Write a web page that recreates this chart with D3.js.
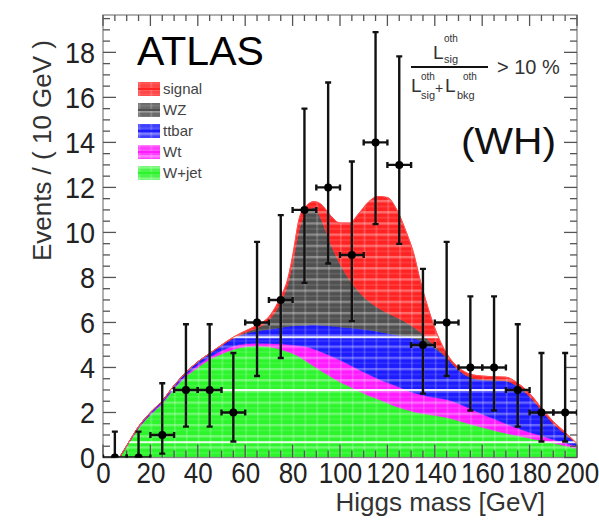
<!DOCTYPE html>
<html><head><meta charset="utf-8">
<script src="https://cdn.jsdelivr.net/npm/d3@7"></script>
<style>
body{margin:0;background:#fff}
svg{display:block}
text{font-family:"Liberation Sans",Arial,Helvetica,sans-serif}
</style>
</head><body>
<svg id="c" width="599" height="520"></svg>
<script>
// ---------- data ----------
const masses = [7,10,15,20,25,30,35,40,45,50,55,60,65,70,75,78,80,83,86,89,92,96,100,104,108,112,116,120,124,128,131,134,137,140,145,150,155,160,165,170,175,180,185,190,195,200];
const wjet   = [0,0.5,1.3,1.9,2.4,3.05,3.6,4.0,4.35,4.6,4.8,4.92,4.95,4.92,4.8,4.7,4.62,4.47,4.26,4.05,3.85,3.6,3.35,3.15,2.95,2.75,2.6,2.42,2.25,2.12,2.03,1.97,1.92,1.87,1.78,1.63,1.48,1.34,1.2,1.08,0.97,0.86,0.75,0.64,0.52,0.4];
const wt     = [0,0,0.02,0.03,0.05,0.05,0.07,0.1,0.1,0.15,0.15,0.13,0.13,0.15,0.25,0.32,0.38,0.5,0.66,0.77,0.85,0.92,0.98,0.97,0.95,0.95,0.9,0.91,0.92,0.88,0.85,0.83,0.8,0.8,0.8,0.77,0.69,0.59,0.52,0.42,0.33,0.26,0.22,0.16,0.12,0.1];
const ttbar  = [0,0.02,0.05,0.07,0.07,0.1,0.11,0.15,0.17,0.23,0.35,0.45,0.54,0.63,0.73,0.8,0.85,0.9,0.96,1.08,1.18,1.32,1.47,1.64,1.82,1.97,2.1,2.19,2.27,2.38,2.42,2.4,2.33,2.18,1.84,1.48,1.38,1.52,1.71,1.9,1.85,1.58,1.13,0.7,0.41,0.1];
const wz     = [0,0,0,0,0,0,0,0,0,0,0,0.05,0.13,0.4,1.12,1.88,2.75,4.33,5.02,5.2,4.72,3.66,2.8,2.14,1.63,1.28,1.05,0.9,0.78,0.62,0.5,0.35,0.2,0.1,0.03,0.02,0.01,0.01,0.01,0.01,0.01,0.01,0.01,0,0,0];
const signal = [0,0,0,0,0,0,0,0,0.01,0.02,0.05,0.07,0.13,0.15,0.25,0.25,0.35,0.5,0.3,0.27,0.65,1.25,1.82,2.52,3.5,4.4,4.95,5.13,4.78,4.0,3.3,2.25,1.45,0.8,0.17,0.1,0.14,0.16,0.15,0.16,0.14,0.14,0.09,0.1,0.07,0.02];

const binCenters = [5,15,25,35,45,55,65,75,85,95,105,115,125,135,145,155,165,175,185,195];
const counts     = [0,0,1,3,3,2,6,7,11,12,9,14,13,5,6,4,4,3,2,2];
const errLow     = [0,0,0.17,1.37,1.37,0.71,3.62,4.42,7.76,8.62,6.06,10.37,9.49,2.84,3.62,2.09,2.09,1.37,0.71,0.71];
const errHigh    = [1.15,1.15,3.3,5.92,5.92,4.64,9.58,10.77,15.5,16.66,13.15,18.9,17.82,8.38,9.58,7.16,7.16,5.92,4.64,4.64];
const binHalf = 5;

const xTickLabels = [0,20,40,60,80,100,120,140,160,180,200];
const yTickLabels = [0,2,4,6,8,10,12,14,16,18];
const stripeLevels = [5.34, 3.0, 0.68];

const seriesKeys   = ["wjet","wt","ttbar","wz","signal"];
const seriesColors = ["#2cf52c","#ff1cff","#1c1cff","#505050","#ff2424"];
const legendOrder  = ["signal","wz","ttbar","wt","wjet"];
const legendLabels = ["signal","WZ","ttbar","Wt","W+jet"];

// ---------- layout ----------
const L = 103, R = 577, T = 15, B = 457.5;
const svg = d3.select("#c");
const x = d3.scaleLinear().domain([0,200]).range([L,R]);
const y = d3.scaleLinear().domain([0,19.66]).range([B,T]);

const defs = svg.append("defs");
defs.append("clipPath").attr("id","plotClip").append("rect")
  .attr("x",L).attr("y",T).attr("width",R-L).attr("height",B-T);
const pat = defs.append("pattern").attr("id","plaid")
  .attr("width",11.85).attr("height",11.2).attr("patternUnits","userSpaceOnUse")
  .attr("x",L).attr("y",B);
pat.append("rect").attr("x",0).attr("y",0).attr("width",11.85).attr("height",2.4).attr("fill","#fff").attr("opacity",0.33);
pat.append("rect").attr("x",0).attr("y",6).attr("width",11.85).attr("height",1.2).attr("fill","#fff").attr("opacity",0.15);
pat.append("rect").attr("x",0).attr("y",0).attr("width",1.6).attr("height",11.2).attr("fill","#fff").attr("opacity",0.22);

// ---------- stack ----------
const table = masses.map((m,i)=>({m, wjet:wjet[i], wt:wt[i], ttbar:ttbar[i], wz:wz[i], signal:signal[i]}));
const stack = d3.stack().keys(seriesKeys)(table);
const area = d3.area().x(d=>x(d.data.m)).y0(d=>y(d[0])).y1(d=>y(d[1])).curve(d3.curveMonotoneX);

const g = svg.append("g").attr("clip-path","url(#plotClip)");
g.selectAll("path.layer").data(stack).join("path").attr("class","layer")
  .attr("d",area).attr("fill",(d,i)=>seriesColors[i]).attr("stroke",(d,i)=>seriesColors[i]).attr("stroke-width",0.6);

// plaid overlay clipped to total stack
const totalArea = d3.area().x(d=>x(d.data.m)).y0(y(0)).y1(d=>y(d[1])).curve(d3.curveMonotoneX);
defs.append("clipPath").attr("id","stackClip").append("path").attr("d",totalArea(stack[stack.length-1]));
const ov = g.append("g").attr("clip-path","url(#stackClip)");
ov.append("rect").attr("x",L).attr("y",T).attr("width",R-L).attr("height",B-T).attr("fill","url(#plaid)");
ov.selectAll("line.stripe").data(stripeLevels).join("line").attr("class","stripe")
  .attr("x1",L).attr("x2",R).attr("y1",d=>y(d)).attr("y2",d=>y(d))
  .attr("stroke","#fff").attr("stroke-width",2).attr("opacity",0.9);
g.append("path").attr("d",d3.line().x(d=>x(d.data.m)).y(d=>y(d[1])).curve(d3.curveMonotoneX)(stack[stack.length-1]))
  .attr("fill","none").attr("stroke","#ff5050").attr("stroke-width",1);

// ---------- frame & ticks ----------
const tickColor = "#555";
const fr = svg.append("g");
fr.append("rect").attr("x",L).attr("y",T).attr("width",R-L).attr("height",B-T)
  .attr("fill","none").attr("stroke","#888").attr("stroke-width",1.3);
const xMinor = d3.range(0,200.01,5), yMinor = d3.range(0,19.6,0.5);
xMinor.forEach(v=>{
  const major = Math.abs(v%20)<1e-6;
  const len = major?13:7;
  fr.append("line").attr("x1",x(v)).attr("x2",x(v)).attr("y1",B).attr("y2",B-len).attr("stroke",tickColor).attr("stroke-width",1.3);
  fr.append("line").attr("x1",x(v)).attr("x2",x(v)).attr("y1",T).attr("y2",T+(major?11:6)).attr("stroke",tickColor).attr("stroke-width",1.3);
});
yMinor.forEach(v=>{
  const major = Math.abs(v%2)<1e-6;
  const len = major?13:7;
  fr.append("line").attr("x1",L).attr("x2",L+len).attr("y1",y(v)).attr("y2",y(v)).attr("stroke",tickColor).attr("stroke-width",1.3);
  fr.append("line").attr("x1",R).attr("x2",R-len).attr("y1",y(v)).attr("y2",y(v)).attr("stroke",tickColor).attr("stroke-width",1.3);
});
// tick labels via d3 axes (lines hidden, only text kept)
const xAxis = d3.axisBottom(x).tickValues(xTickLabels).tickSize(0).tickPadding(0).tickFormat(d3.format("d"));
const xa = svg.append("g").attr("transform",`translate(0,${B})`).call(xAxis);
xa.select(".domain").remove();
xa.selectAll("text").attr("dy",null).attr("y",22.5).attr("transform","scale(1,1.14)")
  .attr("font-size",26).attr("fill","#222").attr("font-family",'"Liberation Sans",Arial,sans-serif');
const yAxis = d3.axisLeft(y).tickValues(yTickLabels).tickSize(0).tickPadding(0).tickFormat(d3.format("d"));
const ya = svg.append("g").attr("transform",`translate(${L-8},0)`).call(yAxis);
ya.select(".domain").remove();
ya.selectAll("text").attr("dy","0.34em").attr("x",0).attr("transform","scale(1.04,1.12)")
  .attr("font-size",26).attr("fill","#222").attr("font-family",'"Liberation Sans",Arial,sans-serif');

// axis titles
svg.append("text").attr("x",545).attr("y",511).attr("text-anchor","end").attr("font-size",26).attr("fill","#333").text("Higgs mass [GeV]");
svg.append("text").attr("transform","translate(51,40) rotate(-90)").attr("text-anchor","end").attr("font-size",26).attr("fill","#333").text("Events / ( 10 GeV )");

// ---------- data points ----------
const pts = svg.append("g").attr("clip-path","url(#plotClip)");
binCenters.forEach((c,i)=>{
  const px = x(c), py = y(counts[i]);
  const gp = pts.append("g").attr("stroke","#111").attr("stroke-width",2.4);
  gp.append("line").attr("x1",px).attr("x2",px).attr("y1",y(errLow[i])).attr("y2",y(errHigh[i]));
  gp.append("line").attr("x1",px-3).attr("x2",px+3).attr("y1",y(errHigh[i])).attr("y2",y(errHigh[i]));
  gp.append("line").attr("x1",px-3).attr("x2",px+3).attr("y1",y(errLow[i])).attr("y2",y(errLow[i]));
  gp.append("line").attr("x1",x(c-binHalf)).attr("x2",x(c+binHalf)).attr("y1",py).attr("y2",py);
  gp.append("line").attr("x1",x(c-binHalf)).attr("x2",x(c-binHalf)).attr("y1",py-3).attr("y2",py+3);
  gp.append("line").attr("x1",x(c+binHalf)).attr("x2",x(c+binHalf)).attr("y1",py-3).attr("y2",py+3);
  pts.append("circle").attr("cx",px).attr("cy",py).attr("r",4).attr("fill","#000");
});

// ---------- labels ----------
svg.append("text").attr("x",137).attr("y",65).attr("font-size",41).attr("fill","#000").text("ATLAS");
svg.append("text").attr("x",461).attr("y",154).attr("font-size",36).attr("fill","#111")
  .attr("textLength",95).attr("lengthAdjust","spacingAndGlyphs").text("(WH)");

// legend
const lg = svg.append("g");
legendOrder.forEach((k,i)=>{
  const idx = seriesKeys.indexOf(k);
  const cy = 89 + i*21;
  lg.append("rect").attr("x",138).attr("y",cy-7).attr("width",22).attr("height",14).attr("fill",seriesColors[idx]).attr("opacity",0.85);
  lg.append("rect").attr("x",138).attr("y",cy-7).attr("width",22).attr("height",14).attr("fill","url(#plaid)");
  lg.append("line").attr("x1",138).attr("x2",160).attr("y1",cy).attr("y2",cy).attr("stroke",seriesColors[idx]).attr("stroke-width",2);
  lg.append("text").attr("x",163).attr("y",cy+5).attr("font-size",15).attr("fill","#444").text(legendLabels[i]);
});

// formula
const f = svg.append("g").attr("fill","#333");
const t = (tx,ty,fs,s)=>f.append("text").attr("x",tx).attr("y",ty).attr("font-size",fs).text(s);
t(433,59,19,"L"); t(444,42,10,"oth"); t(444,63,11,"sig");
f.append("line").attr("x1",411).attr("x2",488).attr("y1",67).attr("y2",67).attr("stroke","#111").attr("stroke-width",2);
t(411,92,19,"L"); t(421,80,10,"oth"); t(421,99,11,"sig");
t(435,93,14,"+");
t(445,92,19,"L"); t(463,80,10,"oth"); t(457,99,11,"bkg");
t(497,74,20,"> 10 %");
</script>
</body></html>
